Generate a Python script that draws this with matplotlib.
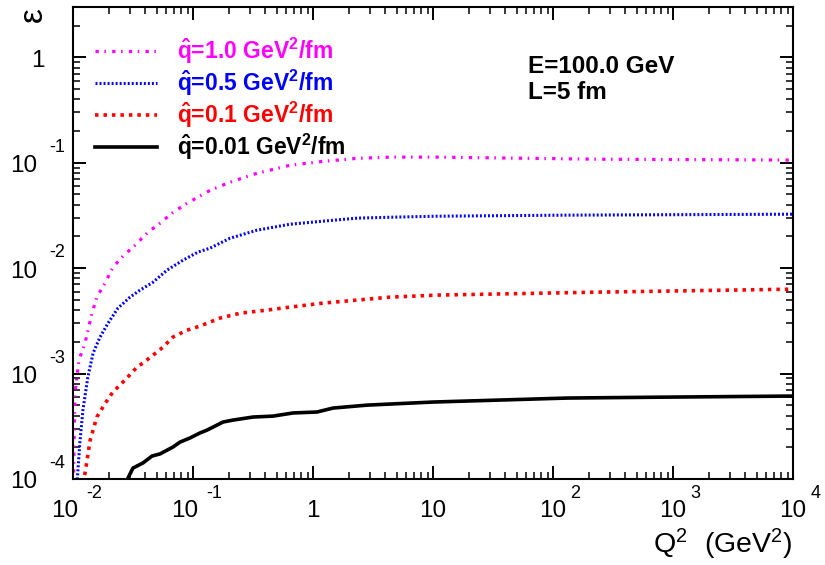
import matplotlib
matplotlib.use("Agg")
import matplotlib.pyplot as plt
from matplotlib.ticker import LogLocator, NullFormatter

plt.rcParams["font.family"] = ["Liberation Sans", "DejaVu Sans"]
plt.rcParams["mathtext.fontset"] = "custom"
plt.rcParams["mathtext.rm"] = "Liberation Sans:bold"
plt.rcParams["mathtext.it"] = "Liberation Sans:bold"
plt.rcParams["mathtext.bf"] = "Liberation Sans:bold"
plt.rcParams["mathtext.sf"] = "Liberation Sans"
plt.rcParams["lines.scale_dashes"] = False

# energy loss fraction vs virtuality, E = 100 GeV, L = 5 fm
q2_10 = [0.0101, 0.0102, 0.0104, 0.0112, 0.0126, 0.0144, 0.0158, 0.0185, 0.0215, 0.0261,
         0.0329, 0.0414, 0.0531, 0.0668, 0.0891, 0.110, 0.139, 0.203, 0.341, 0.643,
         1.21, 2.33, 4.39, 10.8, 233, 10000]
eps_10 = [8e-5, 2.19e-4, 6.53e-4, 1.34e-3, 1.95e-3, 3.74e-3, 5.31e-3, 7.21e-3, 0.0102, 0.0130,
          0.0165, 0.0215, 0.0267, 0.0332, 0.0413, 0.0471, 0.0548, 0.0653, 0.0794, 0.0946,
          0.103, 0.110, 0.113, 0.113, 0.108, 0.106]

q2_05 = [0.0108, 0.0114, 0.0121, 0.0133, 0.0147, 0.0168, 0.0196, 0.0237, 0.0299, 0.0361,
         0.0465, 0.0607, 0.0826, 0.110, 0.139, 0.203, 0.341, 0.643, 1.21, 2.33,
         4.39, 10.8, 121, 10000]
eps_05 = [9.1e-5, 2.19e-4, 4.51e-4, 9.27e-4, 1.56e-3, 2.22e-3, 3.01e-3, 4.18e-3, 5.31e-3, 6.18e-3,
          7.36e-3, 9.57e-3, 0.0119, 0.0142, 0.0155, 0.0192, 0.0229, 0.0261, 0.0279, 0.0298,
          0.0304, 0.0311, 0.0318, 0.0325]

q2_01 = [0.0121, 0.0126, 0.0139, 0.0158, 0.0185, 0.0215, 0.0271, 0.0341, 0.0383, 0.0501,
         0.0562, 0.0681, 0.0891, 0.114, 0.168, 0.247, 0.414, 0.643, 1.21, 2.33,
         4.39, 10.8, 233, 10000]
eps_01 = [9.1e-5, 1.14e-4, 2.34e-4, 3.87e-4, 5.2e-4, 6.68e-4, 8.67e-4, 1.15e-3, 1.26e-3, 1.60e-3,
          1.78e-3, 2.22e-3, 2.58e-3, 2.82e-3, 3.36e-3, 3.74e-3, 4.00e-3, 4.27e-3, 4.66e-3, 4.98e-3,
          5.31e-3, 5.55e-3, 5.92e-3, 6.32e-3]

q2_001 = [0.0282, 0.0316, 0.0383, 0.0455, 0.0531, 0.0681, 0.0780, 0.0944, 0.114, 0.131,
          0.178, 0.215, 0.316, 0.465, 0.681, 1.08, 1.47, 2.82, 4.39, 10,
          131, 891, 10000]
eps_001 = [9.8e-5, 1.27e-4, 1.42e-4, 1.65e-4, 1.73e-4, 2.01e-4, 2.24e-4, 2.45e-4, 2.73e-4, 2.91e-4,
           3.47e-4, 3.62e-4, 3.87e-4, 3.95e-4, 4.23e-4, 4.32e-4, 4.71e-4, 5.02e-4, 5.14e-4, 5.37e-4,
           5.86e-4, 5.98e-4, 6.12e-4]

labels = [r"$\hat{q}$=1.0 GeV$^{2}$/fm", r"$\hat{q}$=0.5 GeV$^{2}$/fm",
          r"$\hat{q}$=0.1 GeV$^{2}$/fm", r"$\hat{q}$=0.01 GeV$^{2}$/fm"]
colors = ["#ff00ff", "#0000ff", "#ff0000", "#000000"]

# ROOT-style tick labels: mantissa plus a separate exponent
xtick_vals = [1e-2, 1e-1, 1, 10, 1e2, 1e3, 1e4]
xtick_base = ["10", "10", "1", "10", "10", "10", "10"]
xtick_exp = ["-2", "-1", "", "", "2", "3", "4"]
ytick_vals = [1e-4, 1e-3, 1e-2, 1e-1, 1]
ytick_base = ["10", "10", "10", "10", "1"]
ytick_exp = ["-4", "-3", "-2", "-1", ""]

PX = 0.72  # points per pixel at dpi 100

fig = plt.figure(figsize=(8.25, 5.65), dpi=100)
ax = fig.add_axes([73 / 825, 1 - 479 / 565, 720 / 825, 472 / 565])

l10, = ax.plot(q2_10, eps_10, color=colors[0], lw=2.3, dashes=(2.4, 4.0, 1.1, 4.5),
               dash_capstyle="butt")
l05, = ax.plot(q2_05, eps_05, color=colors[1], lw=2.2, dashes=(1.4, 1.5), dash_capstyle="butt")
l01, = ax.plot(q2_01, eps_01, color=colors[2], lw=2.6, dashes=(2.5, 3.6), dash_capstyle="butt")
l001, = ax.plot(q2_001, eps_001, color=colors[3], lw=2.6)

ax.set_xscale("log")
ax.set_yscale("log")
ax.set_xlim(1e-2, 1e4)
ax.set_ylim(1e-4, 3)

for axis in (ax.xaxis, ax.yaxis):
    axis.set_major_locator(LogLocator(base=10, numticks=20))
    axis.set_minor_locator(LogLocator(base=10, subs=range(2, 10), numticks=100))
    axis.set_minor_formatter(NullFormatter())
    axis.set_major_formatter(NullFormatter())

ax.tick_params(which="both", direction="in", top=True, right=True,
               labelbottom=False, labelleft=False)
ax.tick_params(which="major", length=13 * PX, width=1.4)
ax.tick_params(which="minor", length=7 * PX, width=1.1)
for sp in ax.spines.values():
    sp.set_linewidth(1.5)

for v, base, ex in zip(xtick_vals, xtick_base, xtick_exp):
    neg = ex.startswith("-")
    dx = -8.5 if neg else 0
    ax.annotate(base, xy=(v, 0), xycoords=("data", "axes fraction"),
                xytext=(dx * PX, -38 * PX), textcoords="offset points",
                ha="center", va="baseline", fontsize=17.5, annotation_clip=False)
    if ex:
        ax.annotate(ex, xy=(v, 0), xycoords=("data", "axes fraction"),
                    xytext=((13.5 if neg else 17.5) * PX, -19.5 * PX), textcoords="offset points",
                    ha="left", va="baseline", fontsize=13, annotation_clip=False)

for v, base, ex in zip(ytick_vals, ytick_base, ytick_exp):
    if ex:
        ax.annotate(base, xy=(0, v), xycoords=("axes fraction", "data"),
                    xytext=(-36 * PX, -9.5 * PX), textcoords="offset points",
                    ha="right", va="baseline", fontsize=17.5, annotation_clip=False)
        ax.annotate(ex, xy=(0, v), xycoords=("axes fraction", "data"),
                    xytext=(-23.5 * PX, 11 * PX), textcoords="offset points",
                    ha="left", va="baseline", fontsize=13, annotation_clip=False)
    else:
        ax.annotate(base, xy=(0, v), xycoords=("axes fraction", "data"),
                    xytext=(-28 * PX, -10 * PX), textcoords="offset points",
                    ha="right", va="baseline", fontsize=17.5, annotation_clip=False)

ax.text(1.0, -0.157, r"$\mathsf{Q^{2}\ \ (GeV^{2})}$", transform=ax.transAxes,
        ha="right", va="baseline", fontsize=20.5)
ax.text(-0.0556, 1.0, "ε", transform=ax.transAxes, rotation=90,
        ha="center", va="top", fontsize=24)

leg = ax.legend([l10, l05, l01, l001], labels, loc="upper left",
                bbox_to_anchor=(0.0306, 0.939), frameon=False, borderpad=0,
                borderaxespad=0, handlelength=2.7, handletextpad=0.87,
                labelspacing=0.075, prop={"size": 16.5, "weight": "bold"})
for txt, c in zip(leg.get_texts(), colors):
    txt.set_color(c)

ax.text(0.632, 0.861, "E=100.0 GeV", transform=ax.transAxes, fontsize=17.5,
        fontweight="bold", va="baseline")
ax.text(0.632, 0.805, "L=5 fm", transform=ax.transAxes, fontsize=17.5,
        fontweight="bold", va="baseline")

fig.savefig("out.png", dpi=100)
